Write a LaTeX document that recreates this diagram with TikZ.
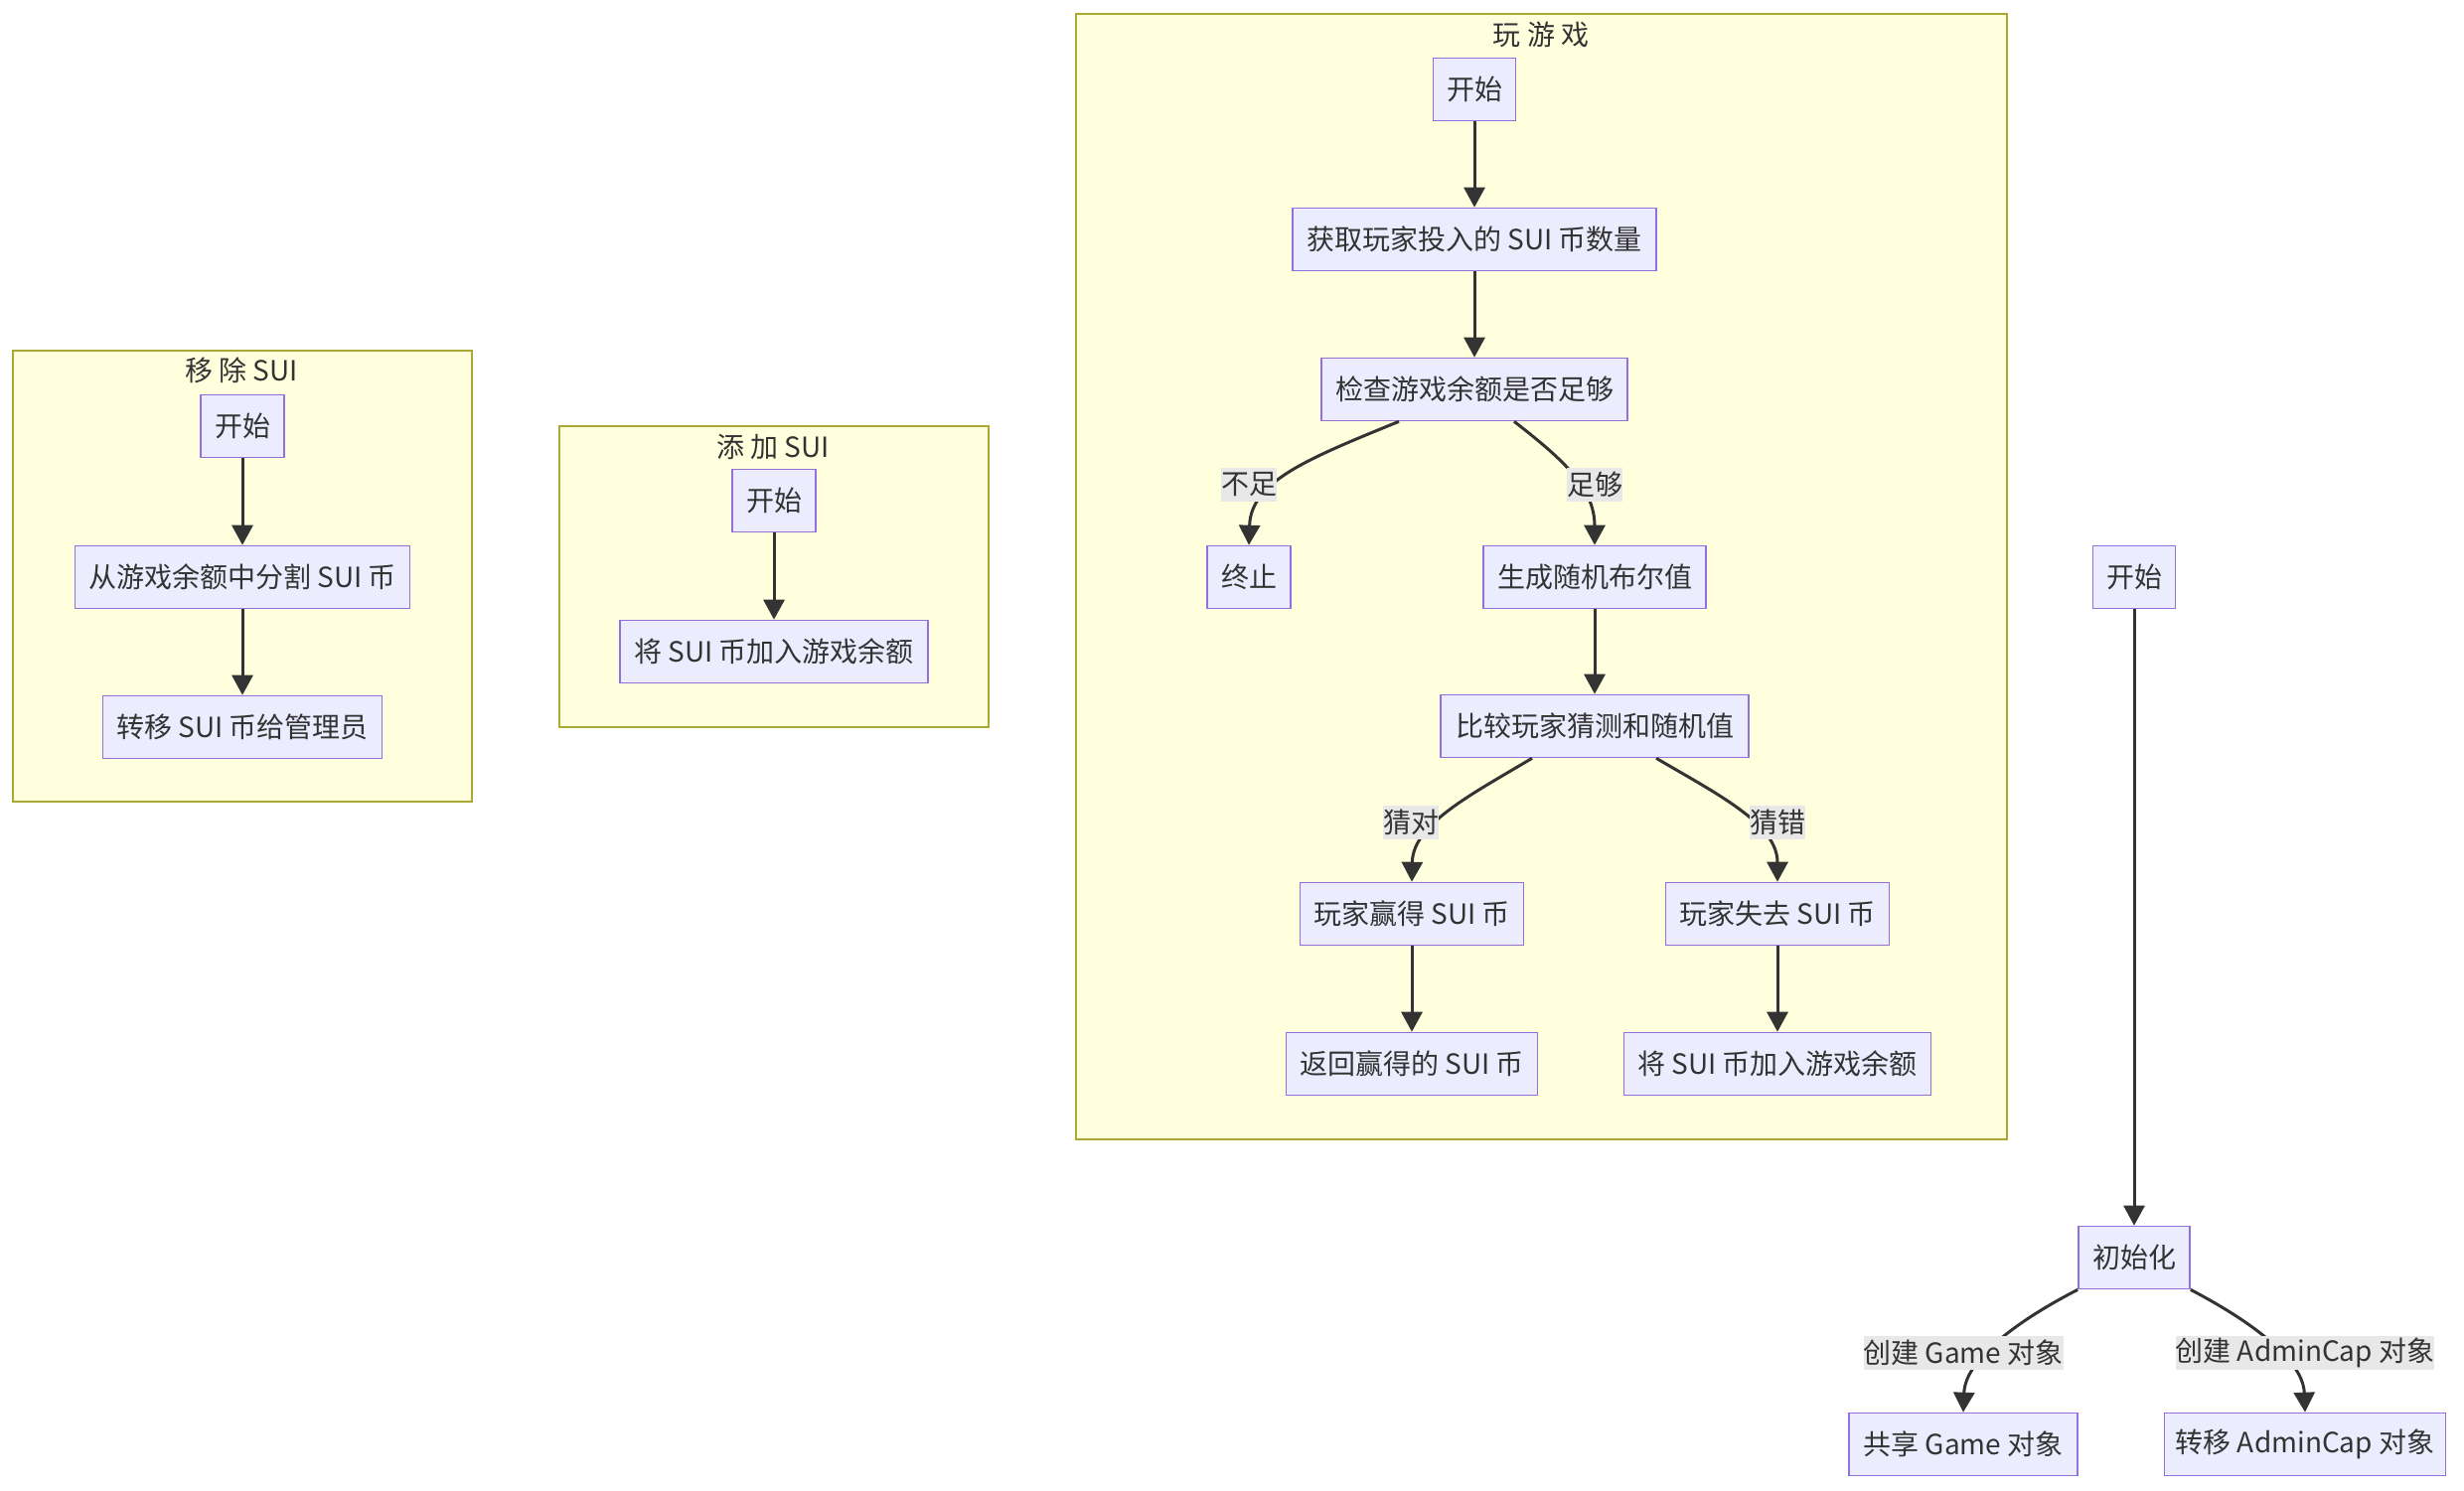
\documentclass[tikz,border=0pt]{standalone}
\usepackage{fontspec}
\setmainfont{Noto Sans CJK SC}
\usetikzlibrary{arrows.meta,calc}
\definecolor{nodefill}{HTML}{ECECFF}
\definecolor{nodestroke}{HTML}{9370DB}
\definecolor{clfill}{HTML}{FFFFDE}
\definecolor{clstroke}{HTML}{AAAA33}
\definecolor{edgecol}{HTML}{333333}
\definecolor{lblfill}{HTML}{E8E8E8}
\begin{document}
\begin{tikzpicture}[x=1pt,y=-1pt,
  every node/.style={font=\fontsize{28}{34}\selectfont, text=edgecol},
  box/.style={draw=nodestroke, fill=nodefill, line width=1.6pt, minimum height=63pt, inner sep=0pt},
  cluster/.style={draw=clstroke, fill=clfill, line width=1.6pt, inner sep=0pt},
  ttl/.style={inner sep=0pt},
  lbl/.style={fill=lblfill, inner sep=0pt, minimum height=34pt},
  edge/.style={draw=edgecol, line width=3pt, -{Triangle[length=20pt,width=21pt]}}
]
\useasboundingbox (0,0) rectangle (2480,1500);
\fill[white] (0,0) rectangle (2480,1500);

% clusters
\node[cluster, minimum width=462pt, minimum height=454pt] (c1) at (244,580) {};
\node[cluster, minimum width=432pt, minimum height=303pt] (c2) at (779,580.5) {};
\node[cluster, minimum width=937pt, minimum height=1133pt] (c3) at (1551.5,580.5) {};
\node[ttl] (t1) at (243,373) {移 除 SUI};
\node[ttl] (t2) at (778,450) {添 加 SUI};
\node[ttl] (t3) at (1551,35) {玩 游 戏};

% remove SUI
\node[box, minimum width=84pt] (rs) at (244,429) {开始};
\node[box, minimum width=337pt] (rsplit) at (244,581) {从游戏余额中分割 SUI 币};
\node[box, minimum width=281pt] (rtrans) at (244,732) {转移 SUI 币给管理员};
% add SUI
\node[box, minimum width=84pt] (as) at (779,504) {开始};
\node[box, minimum width=310pt] (aadd) at (779,656) {将 SUI 币加入游戏余额};
% play
\node[box, minimum width=83pt] (ps) at (1484,90) {开始};
\node[box, minimum width=366pt] (pget) at (1484,241) {获取玩家投入的 SUI 币数量};
\node[box, minimum width=308pt] (pchk) at (1484,392) {检查游戏余额是否足够};
\node[box, minimum width=84pt] (pend) at (1257,581) {终止};
\node[box, minimum width=224pt] (pgen) at (1605,581) {生成随机布尔值};
\node[box, minimum width=310pt] (pcmp) at (1605,731) {比较玩家猜测和随机值};
\node[box, minimum width=225pt] (pwin) at (1421,920) {玩家赢得 SUI 币};
\node[box, minimum width=225pt] (plose) at (1789,920) {玩家失去 SUI 币};
\node[box, minimum width=253pt] (pret) at (1421,1071) {返回赢得的 SUI 币};
\node[box, minimum width=309pt] (padd) at (1789,1071) {将 SUI 币加入游戏余额};
% init
\node[box, minimum width=83pt] (is) at (2148,581) {开始};
\node[box, minimum width=112pt] (init) at (2148,1266) {初始化};
\node[box, minimum width=230pt] (share) at (1976,1454) {共享 Game 对象};
\node[box, minimum width=283pt] (tadm) at (2320,1454) {转移 AdminCap 对象};

% straight edges
\draw[edge] (rs) -- (rsplit);
\draw[edge] (rsplit) -- (rtrans);
\draw[edge] (as) -- (aadd);
\draw[edge] (ps) -- (pget);
\draw[edge] (pget) -- (pchk);
\draw[edge] (pgen) -- (pcmp);
\draw[edge] (pwin) -- (pret);
\draw[edge] (plose) -- (padd);
\draw[edge] (is) -- (init);

% curved edges
\draw[edge] ([xshift=-76pt]pchk.south) .. controls ($(pchk.south)+(-169,38)$) and ($(pend.north)+(2,-64)$) .. (pend.north);
\draw[edge] ([xshift=40pt]pchk.south) .. controls ($(pchk.south)+(86,36)$) and ($(pgen.north)+(0,-59)$) .. (pgen.north);
\draw[edge] ([xshift=-63pt]pcmp.south) .. controls ($(pcmp.south)+(-125,37)$) and ($(pwin.north)+(1,-58)$) .. (pwin.north);
\draw[edge] ([xshift=62pt]pcmp.south) .. controls ($(pcmp.south)+(125,37)$) and ($(plose.north)+(0,-58)$) .. (plose.north);
\draw[edge] (init.south west) .. controls ($(init.south west)+(-62,32)$) and ($(share.north)+(2,-53)$) .. (share.north);
\draw[edge] (init.south east) .. controls ($(init.south east)+(61,32)$) and ($(tadm.north)+(-2,-53)$) .. (tadm.north);

% edge labels
\node[lbl] (l1) at (1257,488) {不足};
\node[lbl] (l2) at (1605,488) {足够};
\node[lbl] (l3) at (1420,828) {猜对};
\node[lbl] (l4) at (1789,828) {猜错};
\node[lbl] (l5) at (1976,1362) {创建 Game 对象};
\node[lbl] (l6) at (2320,1362) {创建 AdminCap 对象};
\end{tikzpicture}
\end{document}
